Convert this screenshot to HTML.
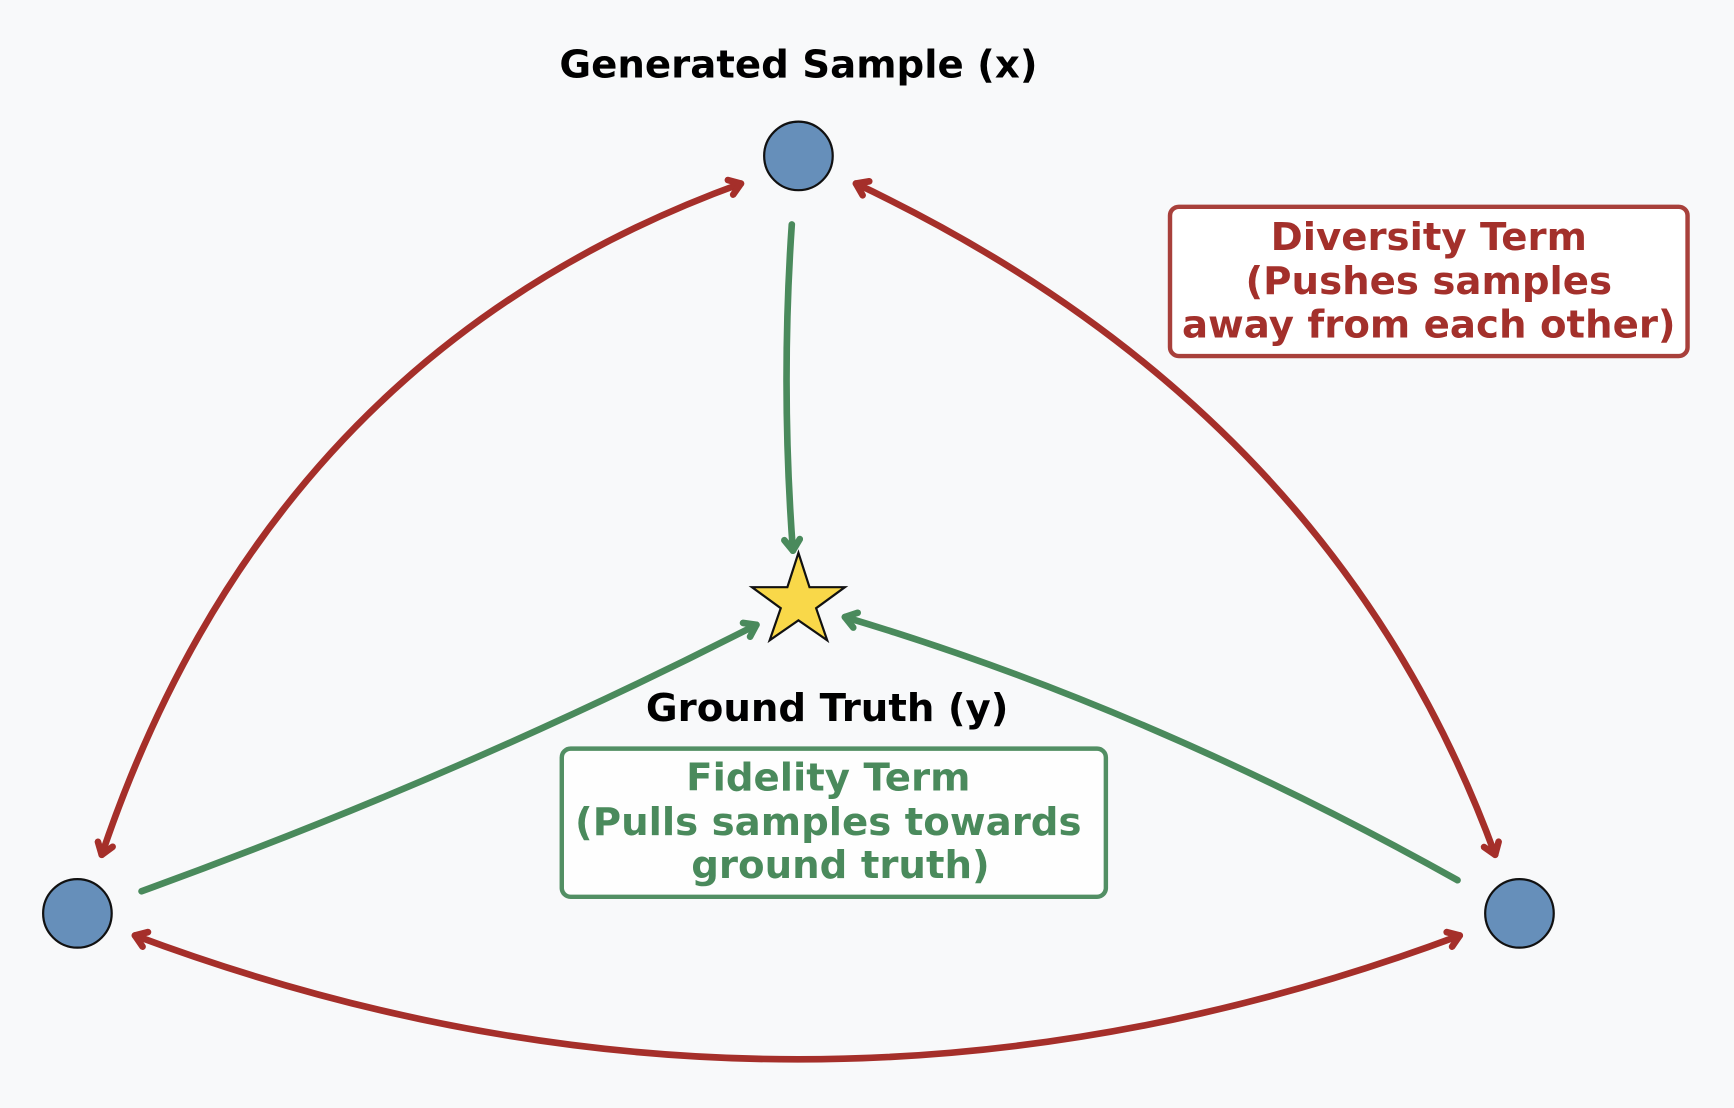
<!DOCTYPE html>
<html><head><style>
html,body{margin:0;padding:0;background:#f8f9fa;}
svg{display:block;}
text{font-family:"DejaVu Sans","Liberation Sans",sans-serif;font-weight:bold;}
</style></head>
<body>
<svg width="1734" height="1108" viewBox="0 0 1568 1002" preserveAspectRatio="none" xmlns="http://www.w3.org/2000/svg">
<defs>
<marker id="r" viewBox="0 0 20 20" refX="16" refY="10" markerWidth="20" markerHeight="20" markerUnits="userSpaceOnUse" orient="auto-start-reverse">
<polyline points="6,3 16,10 6,17" fill="none" stroke="#a52f2a" stroke-width="6" stroke-linecap="round" stroke-linejoin="round"/>
</marker>
<marker id="g" viewBox="0 0 20 20" refX="16" refY="10" markerWidth="20" markerHeight="20" markerUnits="userSpaceOnUse" orient="auto">
<polyline points="6,3 16,10 6,17" fill="none" stroke="#4a8a5c" stroke-width="6" stroke-linecap="round" stroke-linejoin="round"/>
</marker>
</defs>
<rect width="1568" height="1002" fill="#f8f9fa"/>
<g fill="none" stroke="#a52f2a" stroke-width="6" stroke-linecap="round">
<path d="M670,166 Q245,320 92,773" marker-start="url(#r)" marker-end="url(#r)"/>
<path d="M774,166 Q1205,370 1352,773" marker-start="url(#r)" marker-end="url(#r)"/>
<path d="M122,846 Q722,1070 1320,846" marker-start="url(#r)" marker-end="url(#r)"/>
</g>
<g fill="none" stroke="#4a8a5c" stroke-width="6" stroke-linecap="round">
<path d="M716,203 Q706,350 717,498" marker-end="url(#g)"/>
<path d="M128,806 Q420,700 684,565" marker-end="url(#g)"/>
<path d="M1318,796 Q1039,640 764,558" marker-end="url(#g)"/>
</g>
<g fill="#668fba" stroke="#111" stroke-width="2">
<circle cx="722" cy="141" r="31"/>
<circle cx="70" cy="826" r="31"/>
<circle cx="1374" cy="826" r="31"/>
</g>
<polygon points="722,500 732,531 764,531 738,550 748,579 722,561 696,579 706,550 680,531 712,531" fill="#f9d849" stroke="#111" stroke-width="2" stroke-linejoin="miter"/>
<text x="722" y="70" font-size="35" text-anchor="middle" fill="#000">Generated Sample (x)</text>
<text x="748" y="652" font-size="35" text-anchor="middle" fill="#000">Ground Truth (y)</text>
<rect x="508" y="677" width="492" height="134" rx="8" fill="#fff" stroke="#4a8a5c" stroke-width="4" opacity="0.95"/>
<g font-size="35" text-anchor="middle" fill="#4a8a5c">
<text x="749" y="715">Fidelity Term</text>
<text x="749" y="755">(Pulls samples towards</text>
<text x="760" y="794">ground truth)</text>
</g>
<rect x="1058" y="187" width="468" height="135" rx="8" fill="#fff" stroke="#a8403b" stroke-width="4"/>
<g font-size="35" text-anchor="middle" fill="#a3302b">
<text x="1292" y="226">Diversity Term</text>
<text x="1292" y="266">(Pushes samples</text>
<text x="1292" y="305">away from each other)</text>
</g>
</svg>
</body></html>
